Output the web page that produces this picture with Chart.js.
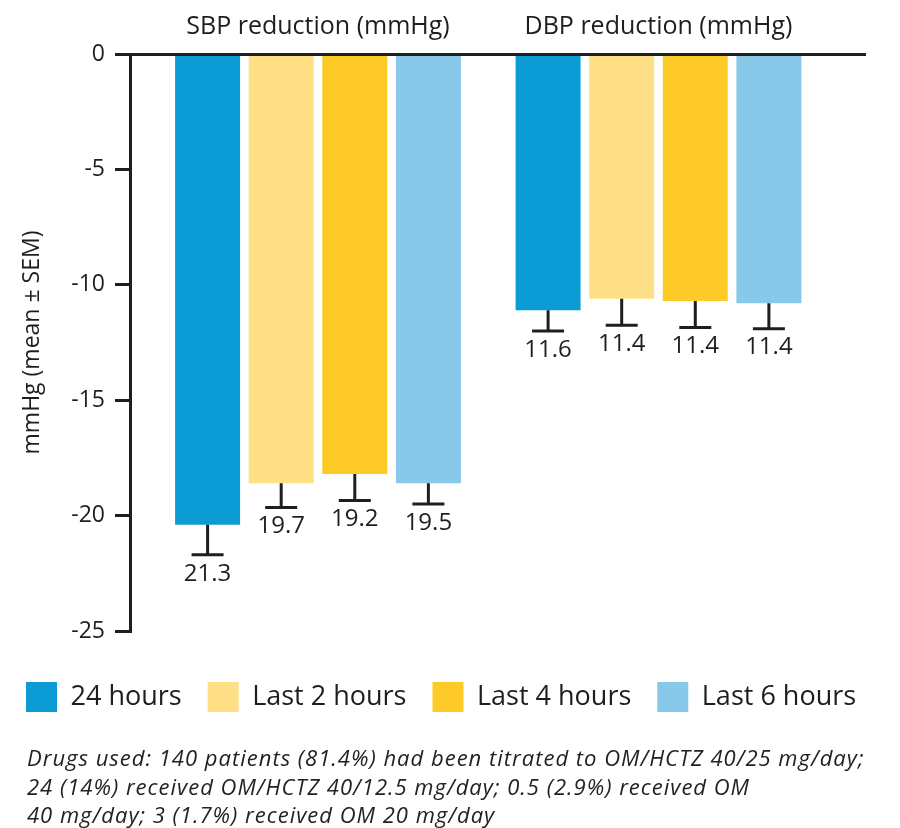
<!DOCTYPE html>
<html>
<head>
<meta charset="utf-8">
<script src="https://cdn.jsdelivr.net/npm/chart.js@4.4.0/dist/chart.umd.min.js"></script>
<style>
  body { margin: 0; background: #fff; }
  #wrap { position: relative; width: 900px; height: 828px; }
  #note {
    position: absolute; left: 27px; top: 743px; margin: 0;
    font: italic 22px/28.5px "Open Sans", sans-serif; letter-spacing: 1px;
    color: #222; white-space: nowrap;
  }
</style>
</head>
<body>
<div id="wrap">
  <canvas id="bp" width="900" height="828"></canvas>
  <p id="note">Drugs used: 140 patients (81.4%) had been titrated to OM/HCTZ 40/25 mg/day;<br>24 (14%) received OM/HCTZ 40/12.5 mg/day; 0.5 (2.9%) received OM<br>40 mg/day; 3 (1.7%) received OM 20 mg/day</p>
</div>
<script>
const groups = ['SBP reduction (mmHg)', 'DBP reduction (mmHg)'];
const periods = ['24 hours', 'Last 2 hours', 'Last 4 hours', 'Last 6 hours'];
const colours = ['#0b9bd5', '#fedf85', '#fdca27', '#88c9ea'];
const yTicks = [0, -5, -10, -15, -20, -25];

// mean change, [SBP, DBP]
const h24 = [-20.4, -11.1];
const last2h = [-18.6, -10.6];
const last4h = [-18.2, -10.7];
const last6h = [-18.6, -10.8];

// SEM (length of the whisker)
const h24Sem = [1.3, 0.9];
const last2hSem = [1.05, 1.15];
const last4hSem = [1.15, 1.15];
const last6hSem = [0.9, 1.1];

// numbers printed under the whiskers
const h24Text = ['21.3', '11.6'];
const last2hText = ['19.7', '11.4'];
const last4hText = ['19.2', '11.4'];
const last6hText = ['19.5', '11.4'];

const means = [h24, last2h, last4h, last6h];
const sems = [h24Sem, last2hSem, last4hSem, last6hSem];
const printed = [h24Text, last2hText, last4hText, last6hText];

const ink = '#1e1e1e';
Chart.defaults.font.family = '"Open Sans", sans-serif';
Chart.defaults.color = ink;

// whiskers + value text under each bar
const errorBars = {
  id: 'errorBars',
  afterDatasetsDraw(chart) {
    const ctx = chart.ctx;
    const y = chart.scales.y;
    ctx.save();
    ctx.strokeStyle = ink;
    ctx.fillStyle = ink;
    ctx.lineWidth = 3;
    ctx.font = '24px "Open Sans"';
    ctx.textAlign = 'center';
    ctx.textBaseline = 'middle';
    chart.data.datasets.forEach((ds, i) => {
      chart.getDatasetMeta(i).data.forEach((bar, j) => {
        const end = y.getPixelForValue(ds.data[j].y - ds.sem[j]);
        ctx.beginPath();
        ctx.moveTo(bar.x, bar.y);
        ctx.lineTo(bar.x, end);
        ctx.moveTo(bar.x - 16, end);
        ctx.lineTo(bar.x + 16, end);
        ctx.stroke();
        ctx.fillText(ds.printed[j], bar.x, end + 19);
      });
    });
    ctx.restore();
  }
};

const bp = document.getElementById('bp').getContext('2d');
const bpChart = new Chart(bp, {
  type: 'bar',
  data: {
    datasets: periods.map((p, i) => ({
      label: p,
      data: means[i].map((v, k) => ({ x: k, y: v })),
      sem: sems[i],
      printed: printed[i],
      backgroundColor: colours[i],
      categoryPercentage: 0.8646,
      barPercentage: 0.883
    }))
  },
  options: {
    responsive: false,
    animation: false,
    layout: { padding: { left: 0, right: 0, top: 0, bottom: 106 } },
    scales: {
      x: {
        type: 'linear',
        position: 'top',
        min: -0.5521,
        max: 1.6065,
        offset: false,
        afterBuildTicks: s => { s.ticks = groups.map((g, k) => ({ value: k })); },
        afterFit: s => { s.height = 54; },
        grid: { display: false, drawTicks: false },
        border: { display: true, color: ink, width: 3, z: 1 },
        ticks: {
          callback: (v, k) => groups[k],
          autoSkip: false,
          maxRotation: 0,
          padding: 12,
          font: { size: 25 }
        }
      },
      y: {
        min: -25,
        max: 0,
        afterBuildTicks: s => { s.ticks = yTicks.map(v => ({ value: v })); },
        afterFit: s => { s.width = 130; },
        grid: { drawOnChartArea: false, tickLength: 15, lineWidth: 3, color: ink },
        border: { color: ink, width: 3 },
        ticks: { padding: 10, font: { size: 23 } },
        title: {
          display: true,
          text: 'mmHg (mean ± SEM)',
          font: { size: 23 },
          padding: { top: 19, bottom: 0 }
        }
      },
      // empty strip on the right so the top rule stops where the original does
      spare: {
        type: 'linear',
        position: 'right',
        afterFit: s => { s.width = 35; },
        grid: { display: false, drawTicks: false },
        border: { display: false },
        ticks: { display: false }
      }
    },
    plugins: {
      legend: {
        position: 'bottom',
        align: 'start',
        title: { display: true, text: ' ', font: { size: 1 }, padding: { top: 23.8, bottom: 0 } },
        labels: { boxWidth: 31, boxHeight: 30, padding: 26, font: { size: 27 } }
      },
      tooltip: { enabled: false }
    }
  },
  plugins: [errorBars]
});
</script>
</body>
</html>
